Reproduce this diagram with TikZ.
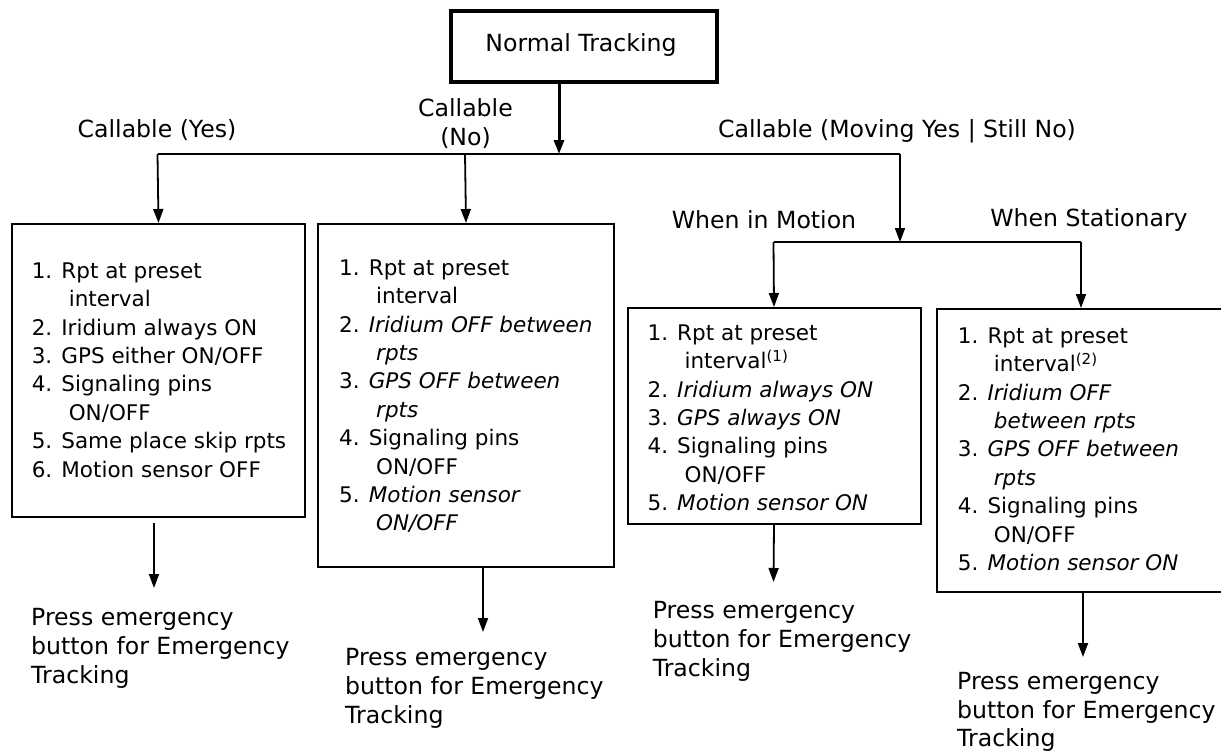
\documentclass[tikz,border=0pt]{standalone}
\usepackage{fontspec}
\setmainfont{DejaVu Sans}
\usetikzlibrary{arrows.meta}
\begin{document}
\begin{tikzpicture}[x=1pt,y=-1pt,
  big/.style={font=\fontsize{23.6}{29}\selectfont},
  small/.style={font=\fontsize{21.5}{28.4}\selectfont},
  boxshape/.style={draw, line width=2pt, inner sep=0, anchor=north west},
  lst/.style={small, align=left, anchor=north west, inner sep=0},
  prs/.style={big, align=left, anchor=north west, inner sep=0},
  lbl/.style={big, align=center, inner sep=0},
  arr/.style={line width=1.8pt, -{Triangle[length=14pt,width=10pt]}},
  ln/.style={line width=1.8pt}]
\useasboundingbox (0,0) rectangle (1221,753);
\clip (0,0) rectangle (1221,753);
% top box
\node[boxshape, line width=3.5pt, minimum width=266pt, minimum height=71pt] (nt) at (449,9) {};
\node[lbl] (ntt) at (581,45) {Normal Tracking};
% labels
\node[lbl] (lyes) at (157,130) {Callable (Yes)};
\node[lbl] (lno) at (465.5,124) {Callable\\(No)};
\node[lbl] (lmov) at (897,131) {Callable (Moving Yes | Still No)};
\node[lbl] (lmot) at (764,220) {When in Motion};
\node[lbl] (lsta) at (1089,220) {When Stationary};
% boxes
\node[boxshape, minimum width=293pt, minimum height=293pt] (b1) at (11,223) {};
\node[boxshape, minimum width=296pt, minimum height=343pt] (b2) at (317,223) {};
\node[boxshape, minimum width=293pt, minimum height=216pt] (b3) at (626.5,307) {};
\node[boxshape, minimum width=320pt, minimum height=283pt] (b4) at (936,308) {};
% list texts
\node[lst] (t1) at (31.6,262.5) {1. Rpt at preset\\
\hspace*{37pt}interval\\
2. Iridium always ON\\
3. GPS either ON/OFF\\
4. Signaling pins\\
\hspace*{37pt}ON/OFF\\
5. Same place skip rpts\\
6. Motion sensor OFF};
\node[lst] (t2) at (339,259.5) {1. Rpt at preset\\
\hspace*{37pt}interval\\
2. \textit{Iridium OFF between}\\
\hspace*{37pt}\textit{rpts}\\
3. \textit{GPS OFF between}\\
\hspace*{37pt}\textit{rpts}\\
4. Signaling pins\\
\hspace*{37pt}ON/OFF\\
5. \textit{Motion sensor}\\
\hspace*{37pt}\textit{ON/OFF}};
\node[lst] (t3) at (647.4,324.5) {1. Rpt at preset\\
\hspace*{37pt}interval\textsuperscript{(1)}\\
2. \textit{Iridium always ON}\\
3. \textit{GPS always ON}\\
4. Signaling pins\\
\hspace*{37pt}ON/OFF\\
5. \textit{Motion sensor ON}};
\node[lst] (t4) at (957.7,327.5) {1. Rpt at preset\\
\hspace*{36pt}interval\textsuperscript{(2)}\\
2. \textit{Iridium OFF}\\
\hspace*{36pt}\textit{between rpts}\\
3. \textit{GPS OFF between}\\
\hspace*{36pt}\textit{rpts}\\
4. Signaling pins\\
\hspace*{36pt}ON/OFF\\
5. \textit{Motion sensor ON}};
% press texts
\node[prs] (p1) at (31,608.4) {Press emergency\\button for Emergency\\Tracking};
\node[prs] (p2) at (345,648.4) {Press emergency\\button for Emergency\\Tracking};
\node[prs] (p3) at (652.6,601.4) {Press emergency\\button for Emergency\\Tracking};
\node[prs, font=\fontsize{23.6}{28.5}\selectfont] (p4) at (957,672.5) {Press emergency\\button for Emergency\\Tracking};
% junction coordinates
\coordinate (j0) at (559,154);
\coordinate (jL) at (157.5,154);
\coordinate (jM) at (465,154);
\coordinate (jR) at (900,154);
\coordinate (k0) at (900,242);
\coordinate (kL) at (773.5,242);
\coordinate (kR) at (1081,242);
\coordinate (a1s) at (154,523);
\coordinate (a1e) at (154,588);
\coordinate (a2) at (483,632);
\coordinate (a3e) at (773.5,582);
\coordinate (a4) at (1083,657);
% connectors
\draw[arr, line width=3pt] (j0 |- nt.south) -- (j0);
\draw[ln] (jL) -- (jR);
\draw[arr] (jL) -- (b1.north);
\draw[arr] (jM) -- (b2.north);
\draw[arr] (jR) -- (k0);
\draw[ln] (kL) -- (kR);
\draw[arr] (kL) -- (b3.north);
\draw[arr] (kR) -- (kR |- b4.north);
\draw[arr] (a1s) -- (a1e);
\draw[arr] (a2 |- b2.south) -- (a2);
\draw[arr] (b3.south) -- (a3e);
\draw[arr] (a4 |- b4.south) -- (a4);
\end{tikzpicture}
\end{document}
